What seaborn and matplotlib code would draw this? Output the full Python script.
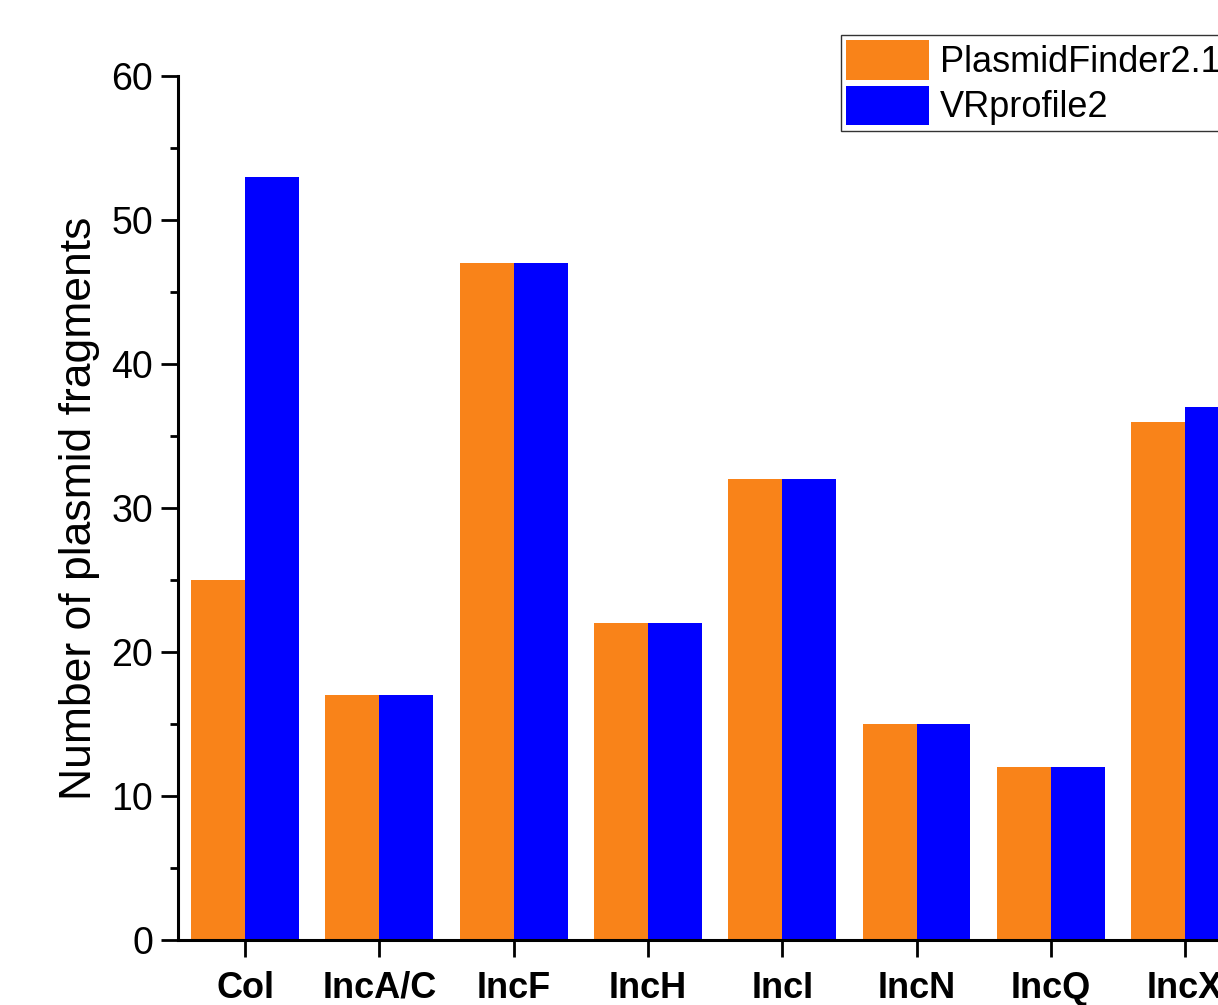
import matplotlib
matplotlib.use("Agg")
import matplotlib.pyplot as plt
import pandas as pd
import seaborn as sns
from matplotlib.ticker import MultipleLocator

categories = ["Col", "IncA/C", "IncF", "IncH", "IncI", "IncN", "IncQ", "IncX"]
plasmidfinder = [25, 17, 47, 22, 32, 15, 12, 36]
vrprofile = [53, 17, 47, 22, 32, 15, 12, 37]
series = ["PlasmidFinder2.1", "VRprofile2"]
colors = ["#F98319", "#0000FF"]

df = pd.DataFrame({
    "category": categories * 2,
    "count": plasmidfinder + vrprofile,
    "tool": [series[0]] * len(categories) + [series[1]] * len(categories),
})

sns.set_style("ticks")
plt.rcParams["font.family"] = ["Liberation Sans", "DejaVu Sans"]
plt.rcParams["text.color"] = "black"
plt.rcParams["axes.labelcolor"] = "black"
plt.rcParams["xtick.color"] = "black"
plt.rcParams["ytick.color"] = "black"

fig = plt.figure(figsize=(12.18, 10.05), dpi=100)
ax = fig.add_axes([0.1461, 0.0647, 0.882, 0.8597])

sns.barplot(data=df, x="category", y="count", hue="tool", order=categories,
            hue_order=series, palette=colors, width=0.804, gap=0,
            saturation=1, linewidth=0, ax=ax, legend=True)

ax.set_xlim(-0.5, 7.5)
ax.set_ylim(0, 60)
ax.yaxis.set_major_locator(MultipleLocator(10))
ax.yaxis.set_minor_locator(MultipleLocator(5))
ax.set_xlabel("")
ax.set_ylabel("Number of plasmid fragments", fontsize=32, labelpad=8, color="black")

for lab in ax.get_xticklabels():
    lab.set_fontweight("bold")
ax.tick_params(axis="x", labelsize=26, length=12, width=2, pad=10, colors="black")
ax.tick_params(axis="y", which="major", labelsize=27, length=12, width=2, pad=6, colors="black")
ax.tick_params(axis="y", which="minor", length=6, width=2, colors="black")

sns.despine(ax=ax, top=True, right=True)
for s in ["left", "bottom"]:
    ax.spines[s].set_linewidth(2.2)
    ax.spines[s].set_color("black")

handles, labels = ax.get_legend_handles_labels()
leg = ax.legend(handles, labels, loc="upper left",
                bbox_to_anchor=(841 / 1218, 1 - 35 / 1005),
                bbox_transform=fig.transFigure, fontsize=26, frameon=True,
                fancybox=False, edgecolor="#333333", framealpha=1,
                handlelength=2.3, handleheight=1.3, labelspacing=0.15,
                handletextpad=0.3, borderpad=0.15, borderaxespad=0)
leg.get_frame().set_linewidth(1)
for t in leg.get_texts():
    t.set_color("black")

fig.savefig("out.png", dpi=100)
